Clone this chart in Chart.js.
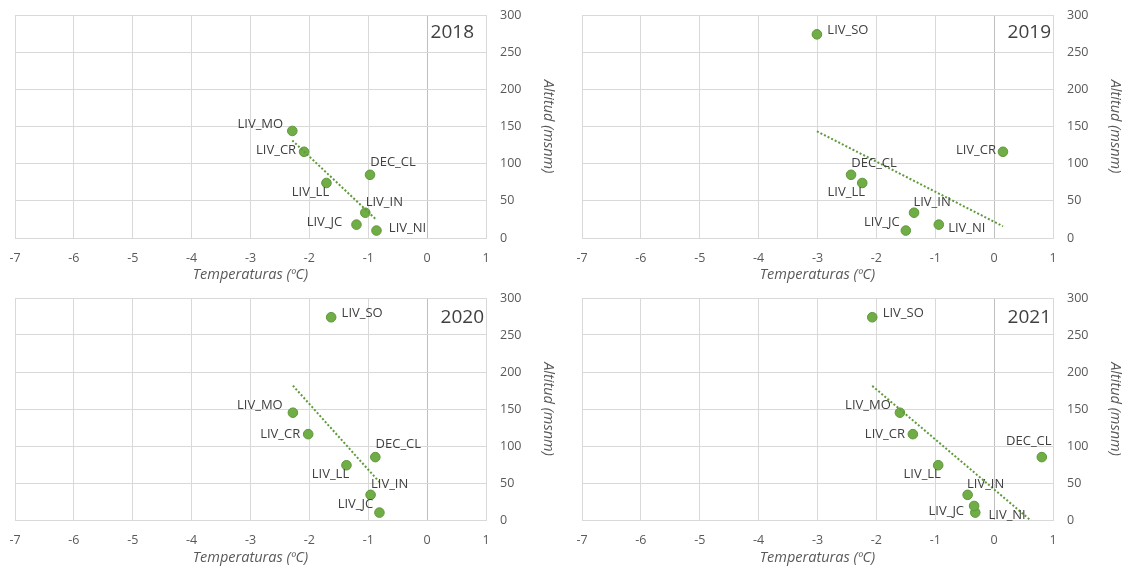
<!DOCTYPE html>
<html>
<head>
<meta charset="utf-8">
<script src="https://cdn.jsdelivr.net/npm/chart.js@4"></script>
<style>
  html, body { margin: 0; padding: 0; background: #ffffff; }
  #wrap { position: relative; width: 1130px; height: 574px; overflow: hidden; }
  #wrap canvas { position: absolute; }
</style>
</head>
<body>
<div id="wrap">
  <canvas id="c2018" width="565" height="287" style="left:0px;top:0px"></canvas>
  <canvas id="c2019" width="565" height="287" style="left:565px;top:0px"></canvas>
  <canvas id="c2020" width="565" height="287" style="left:0px;top:287px"></canvas>
  <canvas id="c2021" width="565" height="287" style="left:565px;top:287px"></canvas>
</div>
<script>
// Axis ticks
const tempTicks = [-7, -6, -5, -4, -3, -2, -1, 0, 1];
const altTicks = [0, 50, 100, 150, 200, 250, 300];

// 2018: station, mean temperature (ºC), altitude (msnm)
const stations2018 = ['LIV_MO', 'LIV_CR', 'LIV_LL', 'DEC_CL', 'LIV_IN', 'LIV_JC', 'LIV_NI'];
const temps2018    = [-2.29, -2.09, -1.71, -0.97, -1.05, -1.20, -0.86];
const alts2018     = [144, 116, 74, 85, 34, 18, 10];

// 2019
const stations2019 = ['LIV_SO', 'LIV_CR', 'DEC_CL', 'LIV_LL', 'LIV_IN', 'LIV_JC', 'LIV_NI'];
const temps2019    = [-3.01, 0.15, -2.43, -2.24, -1.36, -1.50, -0.94];
const alts2019     = [274, 116, 85, 74, 34, 10, 18];

// 2020
const stations2020 = ['LIV_SO', 'LIV_MO', 'LIV_CR', 'DEC_CL', 'LIV_LL', 'LIV_IN', 'LIV_JC'];
const temps2020    = [-1.63, -2.28, -2.02, -0.88, -1.37, -0.96, -0.81];
const alts2020     = [274, 145, 116, 85, 74, 34, 10];

// 2021
const stations2021 = ['LIV_SO', 'LIV_MO', 'LIV_CR', 'DEC_CL', 'LIV_LL', 'LIV_IN', 'LIV_JC', 'LIV_NI'];
const temps2021    = [-2.07, -1.60, -1.38, 0.81, -0.95, -0.45, -0.32, -0.34];
const alts2021     = [274, 145, 116, 85, 74, 34, 10, 19];

// Data label placement (pixel offset of the label centre from its marker)
const labelOffsets2018 = {
  LIV_MO: [-32, -7], LIV_CR: [-28, -1], LIV_LL: [-16, 9], DEC_CL: [23, -13],
  LIV_IN: [19, -10], LIV_JC: [-32, -2], LIV_NI: [31, -2]
};
const labelOffsets2019 = {
  LIV_SO: [31, -4], LIV_CR: [-27, -1], DEC_CL: [23, -12], LIV_LL: [-16, 9],
  LIV_IN: [18, -10], LIV_JC: [-24, -8], LIV_NI: [28, 4]
};
const labelOffsets2020 = {
  LIV_SO: [31, -4], LIV_MO: [-33, -7], LIV_CR: [-28, 0], DEC_CL: [23, -13],
  LIV_LL: [-16, 9], LIV_IN: [19, -11], LIV_JC: [-24, -8]
};
const labelOffsets2021 = {
  LIV_SO: [31, -4], LIV_MO: [-32, -7], LIV_CR: [-28, 0], DEC_CL: [-13, -16],
  LIV_LL: [-16, 9], LIV_IN: [18, -11], LIV_JC: [-29, -1], LIV_NI: [33, 9]
};

const GREEN = '#70AD47';
const GREEN_EDGE = '#5E9839';
const GRID = '#D9D9D9';
const TEXT = '#595959';
const FONT = '"Open Sans", "Liberation Sans", sans-serif';

// Ordinary least-squares linear trend over the plotted points
function linearTrend(xs, ys) {
  const n = xs.length;
  const mx = xs.reduce((a, b) => a + b, 0) / n;
  const my = ys.reduce((a, b) => a + b, 0) / n;
  let sxy = 0, sxx = 0;
  for (let i = 0; i < n; i++) {
    sxy += (xs[i] - mx) * (ys[i] - my);
    sxx += (xs[i] - mx) * (xs[i] - mx);
  }
  const slope = sxy / sxx;
  const icpt = my - slope * mx;
  const x0 = Math.min(...xs), x1 = Math.max(...xs);
  return [{ x: x0, y: icpt + slope * x0 }, { x: x1, y: icpt + slope * x1 }];
}

// Station names beside the markers, plus the year in the upper-right corner
const stationLabels = {
  id: 'stationLabels',
  afterDatasetsDraw(chart, args, opts) {
    const ctx = chart.ctx;
    const meta = chart.getDatasetMeta(0);
    ctx.save();
    ctx.font = '13px ' + FONT;
    ctx.fillStyle = '#404040';
    ctx.textAlign = 'center';
    ctx.textBaseline = 'middle';
    meta.data.forEach((el, i) => {
      const name = opts.names[i];
      const off = opts.offsets[name] || [12, 0];
      ctx.fillText(name, el.x + off[0], el.y + off[1]);
    });
    ctx.font = '19px ' + FONT;
    ctx.fillStyle = '#404040';
    ctx.textAlign = 'right';
    ctx.fillText(opts.year, chart.chartArea.right - opts.yearInset, chart.chartArea.top + opts.yearDy);
    ctx.restore();
  }
};

function noScalePadding(s) {
  s.paddingLeft = 0;
  s.paddingRight = 0;
  s.paddingTop = 0;
  s.paddingBottom = 0;
}

function makePanel(id, year, names, temps, alts, offsets, box) {
  const points = temps.map((t, i) => ({ x: t, y: alts[i] }));
  const trend = linearTrend(temps, alts);
  return new Chart(document.getElementById(id), {
    type: 'scatter',
    data: {
      datasets: [
        {
          data: points,
          backgroundColor: GREEN,
          borderColor: GREEN_EDGE,
          borderWidth: 1,
          pointRadius: 4.8,
          pointHoverRadius: 4.8,
          order: 2
        },
        {
          data: trend,
          showLine: true,
          pointRadius: 0,
          borderColor: '#5E9A3A',
          borderWidth: 2,
          borderDash: [2, 2],
          fill: false,
          order: 1
        }
      ]
    },
    options: {
      responsive: false,
      animation: false,
      devicePixelRatio: 1,
      events: [],
      layout: { padding: { left: box.left, top: box.top, right: 0, bottom: 0 } },
      plugins: {
        legend: { display: false },
        tooltip: { enabled: false },
        stationLabels: { names: names, offsets: offsets, year: year, yearInset: box.yearInset, yearDy: box.yearDy }
      },
      scales: {
        x: {
          type: 'linear',
          min: tempTicks[0],
          max: tempTicks[tempTicks.length - 1],
          afterBuildTicks: s => { s.ticks = tempTicks.map(v => ({ value: v })); },
          afterFit: s => { s.height = box.xh; noScalePadding(s); },
          grid: {
            color: c => (c.tick && c.tick.value === 0) ? '#BFBFBF' : GRID,
            lineWidth: 1,
            drawTicks: false
          },
          border: { color: GRID, width: 1 },
          ticks: {
            padding: 13,
            color: TEXT,
            font: { family: FONT, size: 12.5 },
            callback: v => String(v)
          },
          title: {
            display: true,
            text: 'Temperaturas (ºC)',
            color: TEXT,
            font: { family: FONT, size: 14.5, style: 'italic' },
            padding: { top: 0, bottom: box.xTitlePad }
          }
        },
        y: {
          type: 'linear',
          position: 'right',
          min: altTicks[0],
          max: altTicks[altTicks.length - 1],
          afterBuildTicks: s => { s.ticks = altTicks.map(v => ({ value: v })); },
          afterFit: s => { s.width = box.yw; noScalePadding(s); },
          grid: { color: GRID, lineWidth: 1, drawTicks: false },
          border: { color: GRID, width: 1 },
          ticks: {
            padding: 14,
            color: TEXT,
            font: { family: FONT, size: 12.5 },
            callback: v => String(v)
          },
          title: {
            display: true,
            text: 'Altitud (msnm)',
            color: TEXT,
            font: { family: FONT, size: 14.5, style: 'italic' },
            padding: { top: box.yTitlePad, bottom: 0 }
          }
        }
      }
    },
    plugins: [stationLabels]
  });
}

makePanel('c2018', '2018', stations2018, temps2018, alts2018, labelOffsets2018,
  { left: 15, top: 15, xh: 49, yw: 79, xTitlePad: 3, yTitlePad: 8, yearInset: 12, yearDy: 18 });
makePanel('c2019', '2019', stations2019, temps2019, alts2019, labelOffsets2019,
  { left: 17, top: 15, xh: 49, yw: 77, xTitlePad: 3, yTitlePad: 6, yearInset: 2, yearDy: 18 });
makePanel('c2020', '2020', stations2020, temps2020, alts2020, labelOffsets2020,
  { left: 15, top: 11, xh: 54, yw: 79, xTitlePad: 7, yTitlePad: 8, yearInset: 2, yearDy: 20 });
makePanel('c2021', '2021', stations2021, temps2021, alts2021, labelOffsets2021,
  { left: 17, top: 11, xh: 54, yw: 77, xTitlePad: 7, yTitlePad: 6, yearInset: 2, yearDy: 20 });
</script>
</body>
</html>
